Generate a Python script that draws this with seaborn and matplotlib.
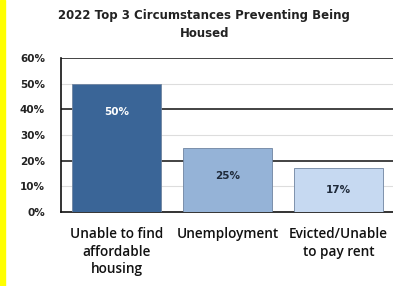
import matplotlib
matplotlib.use("Agg")
import matplotlib.pyplot as plt
import seaborn as sns
import pandas as pd
from matplotlib.patches import Rectangle

categories = ["Unable to find\naffordable\nhousing", "Unemployment", "Evicted/Unable\nto pay rent"]
shares = [50, 25, 17]
bar_colors = ["#3A6597", "#95B3D7", "#C6D9F1"]
label_colors = ["white", "#1F2A3A", "#1F2A3A"]

df = pd.DataFrame({"reason": categories, "share": shares})

sns.set_style("white")
plt.rcParams["font.family"] = ["Open Sans", "DejaVu Sans"]
num_font = "DejaVu Sans"

fig = plt.figure(figsize=(3.93, 2.86), dpi=100)
ax = fig.add_axes([61 / 393, 1 - 212 / 286, 333 / 393, 154 / 286])

# yellow strip on the left edge
fig.patches.append(Rectangle((0, 0), 5 / 393, 1, transform=fig.transFigure,
                             color="#FFFF00", zorder=0))

sns.barplot(data=df, x="reason", y="share", hue="reason", palette=bar_colors,
            saturation=1, width=0.8, legend=False, ax=ax, zorder=3,
            edgecolor="#6F84A0", linewidth=0.6)

ax.set_ylim(0, 60)
ax.set_yticks(range(0, 61, 10))
ax.set_yticklabels([f"{v}%" for v in range(0, 61, 10)], fontsize=7.5, fontweight="bold",
                   color="#222222", family=num_font)
for v in range(10, 61, 10):
    if v % 20 == 0:
        ax.axhline(v, color="#222222", lw=1.2, zorder=1)
    else:
        ax.axhline(v, color="#DDDDDD", lw=0.8, zorder=1)
ax.tick_params(axis="y", length=0, pad=11.5)
ax.tick_params(axis="x", length=0, pad=11, labelsize=9.8)
for lab in ax.get_xticklabels():
    lab.set_color("#111111")
    lab.set_fontweight("semibold")
    lab.set_linespacing(1.3)

for i, (v, c) in enumerate(zip(shares, label_colors)):
    ax.text(i, v - min(11, v / 2), f"{v}%", ha="center", va="center", fontsize=7.5,
            fontweight="bold", color=c, zorder=4, family=num_font)

ax.set_xlabel("")
ax.set_ylabel("")
for side in ["top", "right"]:
    ax.spines[side].set_visible(False)
ax.spines["left"].set_color("#111111")
ax.spines["left"].set_linewidth(1.2)
ax.spines["bottom"].set_color("#111111")
ax.spines["bottom"].set_linewidth(1.2)

fig.text(0.52, 0.97, "2022 Top 3 Circumstances Preventing Being\nHoused", ha="center",
         va="top", fontsize=8.5, fontweight="bold", color="#222222", linespacing=1.55,
         family=num_font)

fig.savefig("out.png", dpi=100)
